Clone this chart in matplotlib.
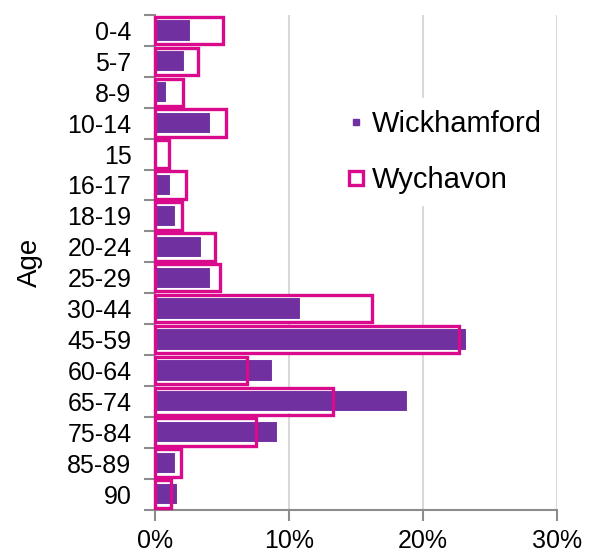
import matplotlib
matplotlib.use('Agg')
import matplotlib.pyplot as plt
from matplotlib.lines import Line2D
from matplotlib.ticker import FixedLocator, FuncFormatter

ages = ["0-4", "5-7", "8-9", "10-14", "15", "16-17", "18-19", "20-24", "25-29",
        "30-44", "45-59", "60-64", "65-74", "75-84", "85-89", "90"]
wickhamford = [2.66, 2.27, 0.9, 4.18, 0.0, 1.19, 1.59, 3.5, 4.18,
               10.87, 23.26, 8.8, 18.9, 9.2, 1.6, 1.69]
wychavon = [5.1, 3.2, 2.1, 5.3, 1.07, 2.3, 2.0, 4.48, 4.83,
            16.2, 22.7, 6.84, 13.26, 7.5, 1.97, 1.2]
xticks = [0, 10, 20, 30]

PURPLE = '#7030A0'
MAGENTA = '#DA0A8C'
GRID = '#D9D9D9'
SPINE = '#8C8C8C'

plt.rcParams['font.family'] = ['Liberation Sans', 'DejaVu Sans']

fig = plt.figure(figsize=(5.98, 5.52), dpi=100)
ax = fig.add_axes([155 / 598, 1 - 509.5 / 552, (557 - 155) / 598, (509.5 - 15) / 552])

y = list(range(len(ages)))
ax.barh(y, wickhamford, height=0.72, color=PURPLE, edgecolor='white', linewidth=1.5, zorder=2)
bars = ax.barh(y, wychavon, height=0.89, facecolor='none', edgecolor=MAGENTA, linewidth=2.4, zorder=3)
for b in bars:
    b.set_clip_on(False)

ax.set_xlim(0, 30)
ax.set_ylim(len(ages) - 0.5, -0.5)

ax.set_xticks(xticks)
ax.xaxis.set_major_formatter(FuncFormatter(lambda v, p: f"{int(v)}%"))
ax.grid(axis='x', color=GRID, linewidth=1.5, zorder=0)
ax.set_axisbelow(True)

ax.yaxis.set_major_locator(FixedLocator([i - 0.5 for i in range(len(ages) + 1)]))
ax.yaxis.set_minor_locator(FixedLocator(y))
ax.yaxis.set_major_formatter(FuncFormatter(lambda v, p: ""))
ax.set_yticks(y, ages, minor=True)
ax.tick_params(axis='y', which='major', length=8, width=1.5, color=SPINE, direction='out')
ax.tick_params(axis='y', which='minor', length=0, pad=17, labelsize=18)
ax.tick_params(axis='x', which='major', length=8, width=1.5, color=SPINE, direction='out', pad=6, labelsize=18)

for s in ['top', 'right']:
    ax.spines[s].set_visible(False)
for s in ['left', 'bottom']:
    ax.spines[s].set_color(SPINE)
    ax.spines[s].set_linewidth(1.5)

ax.set_ylabel("Age", fontsize=20, labelpad=17)

handles = [
    Line2D([], [], marker='s', color=PURPLE, linestyle='none', markersize=4.5),
    Line2D([], [], marker='s', markerfacecolor='white', markeredgecolor=MAGENTA,
           markeredgewidth=2.4, markersize=10, linestyle='none'),
]
leg = ax.legend(handles, ["Wickhamford", "Wychavon"], loc='center left',
                bbox_to_anchor=(0.41, 0.723), fontsize=21, frameon=True,
                facecolor='white', edgecolor='none', framealpha=1, fancybox=False,
                handlelength=0.7, handletextpad=0.2, labelspacing=0.97, borderpad=0.4)
leg.set_zorder(5)

fig.savefig('out.png', dpi=100, facecolor='white')
